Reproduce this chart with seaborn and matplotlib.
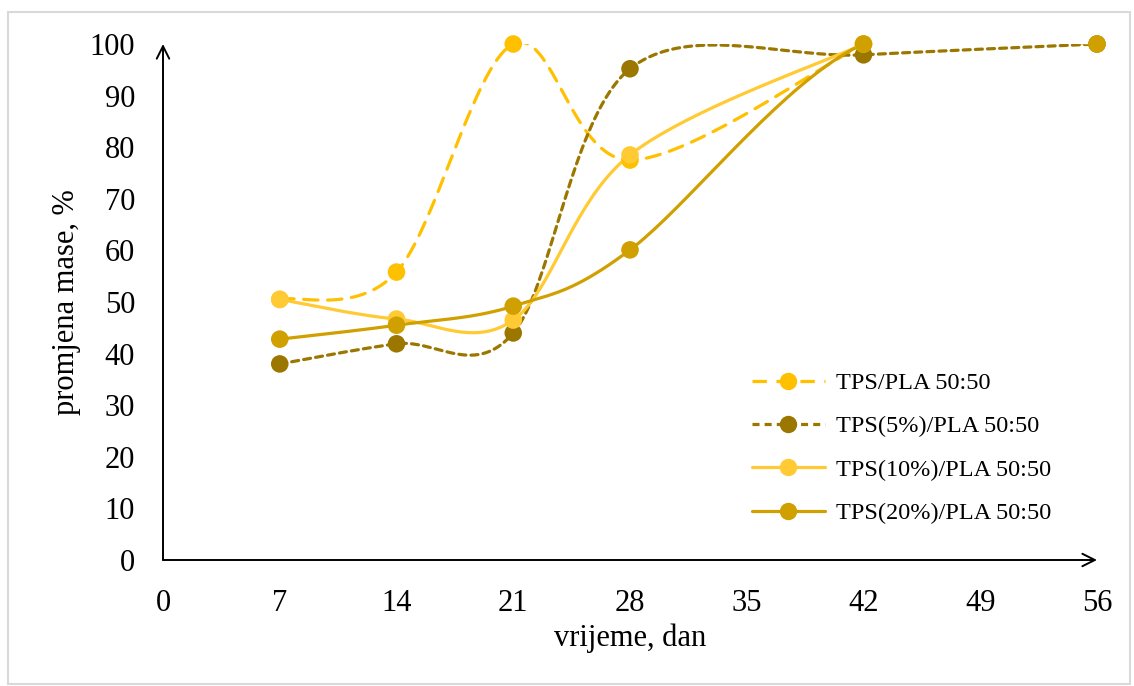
import numpy as np
import pandas as pd
import matplotlib
matplotlib.use("Agg")
import matplotlib.pyplot as plt
from matplotlib.lines import Line2D
from matplotlib.patches import Rectangle
import seaborn as sns

# data
days_a = [7, 14, 21, 28, 42]
tps_pla = [50.5, 55.8, 100, 77.5, 100]
days_b = [7, 14, 21, 28, 42, 56]
tps_5 = [38, 41.9, 44, 95.2, 97.9, 100]
days_c = [7, 14, 21, 28, 42]
tps_10 = [50.5, 46.7, 46.5, 78.5, 100]
days_d = [7, 14, 21, 28, 42, 56]
tps_20 = [42.8, 45.5, 49.2, 60.1, 100, 100]

labels = ["TPS/PLA 50:50", "TPS(5%)/PLA 50:50", "TPS(10%)/PLA 50:50", "TPS(20%)/PLA 50:50"]
colors = ["#FFC000", "#9C7700", "#FFCA33", "#D0A000"]
dashes = [(4.5, 3.0), (2.2, 1.6), "", ""]


def excel_smooth(x, y, n=40):
    # bezier smoothing similar to excel's "smoothed line"
    x = np.asarray(x, float)
    y = np.asarray(y, float)
    px, py = [], []
    for i in range(len(x) - 1):
        i0 = max(i - 1, 0)
        i3 = min(i + 2, len(x) - 1)
        c1 = (x[i] + (x[i + 1] - x[i0]) / 6, y[i] + (y[i + 1] - y[i0]) / 6)
        c2 = (x[i + 1] - (x[i3] - x[i]) / 6, y[i + 1] - (y[i3] - y[i]) / 6)
        t = np.linspace(0, 1, n)
        bx = (1 - t) ** 3 * x[i] + 3 * (1 - t) ** 2 * t * c1[0] + 3 * (1 - t) * t ** 2 * c2[0] + t ** 3 * x[i + 1]
        by = (1 - t) ** 3 * y[i] + 3 * (1 - t) ** 2 * t * c1[1] + 3 * (1 - t) * t ** 2 * c2[1] + t ** 3 * y[i + 1]
        px.extend(bx)
        py.extend(by)
    return pd.DataFrame({"x": px, "y": py})


sns.set_style("white")
plt.rcParams["font.family"] = ["Liberation Serif", "DejaVu Serif"]
plt.rcParams["text.color"] = "black"
plt.rcParams["axes.labelcolor"] = "black"
plt.rcParams["xtick.color"] = "black"
plt.rcParams["ytick.color"] = "black"

fig = plt.figure(figsize=(11.34, 6.86), dpi=100)
ax = fig.add_axes([163 / 1134, 1 - 560 / 686, (1097 - 163) / 1134, (560 - 44) / 686])

series = [(days_a, tps_pla), (days_b, tps_5), (days_c, tps_10), (days_d, tps_20)]
handles = []
for (dx, dy), lab, col, ds in zip(series, labels, colors, dashes):
    curve = excel_smooth(dx, dy)
    sns.lineplot(data=curve, x="x", y="y", sort=False, estimator=None, ax=ax,
                 color=col, lw=2.3, dashes=False)
    ln = ax.lines[-1]
    if ds:
        ln.set_dashes(ds)
        ln.set_dash_capstyle("round")
    pts = pd.DataFrame({"x": dx, "y": dy})
    sns.scatterplot(data=pts, x="x", y="y", ax=ax, color=col, s=160,
                    edgecolor="none", zorder=3)
    ax.collections[-1].set_clip_on(False)
    h = Line2D([0], [0], color=col, lw=2.3, marker="o", markersize=11.5)
    if ds:
        h.set_dashes(ds)
    handles.append(h)

ax.set_xlim(0, 56)
ax.set_ylim(0, 100)
ax.set_xticks(np.arange(0, 57, 7))
ax.set_yticks(np.arange(0, 101, 10))
ax.tick_params(axis="both", length=0, labelsize=22, colors="black")
ax.tick_params(axis="y", pad=20)
ax.tick_params(axis="x", pad=21)
ax.set_xlabel("vrijeme, dan", fontsize=22, labelpad=4)
ax.set_ylabel("promjena mase, %", fontsize=22, labelpad=6)
for sp in ax.spines.values():
    sp.set_visible(False)

# axis lines with open arrow heads
arrow = dict(arrowstyle="->,head_length=0.9,head_width=0.45", lw=1.4, color="black",
             shrinkA=0, shrinkB=0)
ax.annotate("", xy=(1.0, 0), xytext=(0, 0), xycoords="axes fraction", arrowprops=arrow)
ax.annotate("", xy=(0, 1.0), xytext=(0, 0), xycoords="axes fraction", arrowprops=arrow)

ax.legend(handles, labels, loc="upper left", bbox_to_anchor=(752 / 1134, 1 - 372 / 686),
          bbox_transform=fig.transFigure, frameon=False, fontsize=17.5,
          handlelength=3.0, handletextpad=0.45, labelspacing=0.88, borderpad=0,
          borderaxespad=0)

fig.patches.append(Rectangle((8 / 1134, 2 / 686), 1122 / 1134, 672 / 686, transform=fig.transFigure,
                             fill=False, edgecolor="#D9D9D9", lw=1.5))

fig.savefig("out.png", dpi=100)
